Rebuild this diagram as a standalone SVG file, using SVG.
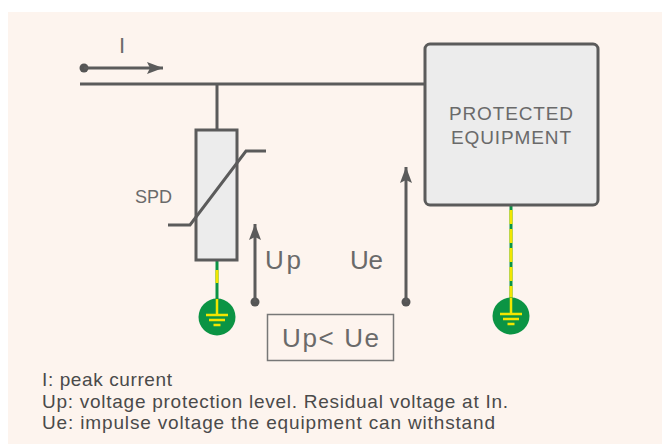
<svg xmlns="http://www.w3.org/2000/svg" width="662" height="444" viewBox="0 0 662 444">
<defs>
<style>
.wire{stroke:#5b5b5b;stroke-width:3;fill:none}
.box{stroke:#5b5b5b;stroke-width:3;fill:#ececec}
.dot{fill:#555}
.lbl{font-family:"Liberation Sans",Arial,sans-serif;fill:#6a6a6a}
.leg{font-family:"Liberation Sans",Arial,sans-serif;fill:#4a4a4a;font-size:19px}
.gw{stroke:#0b9444;stroke-width:3}
.gy{stroke:#f3e600;stroke-width:3;stroke-dasharray:14 5}
.gc{fill:#0b9444}
.gs{stroke:#f3e600;stroke-width:2.5;fill:none}
</style>
<marker id="arr" viewBox="0 0 16 12" refX="16" refY="6" markerWidth="16" markerHeight="12" markerUnits="userSpaceOnUse" orient="auto">
<path d="M0,0 L16,6 L0,12 L3,6 Z" fill="#5b5b5b"/>
</marker>
<g id="ground">
<circle class="gc" cx="0" cy="0" r="18.5"/>
<path class="gs" d="M0,-18 V-2 M-11,-2 H11 M-8,3 H8 M-3.5,8 H3.5"/>
</g>
</defs>
<rect x="8" y="12" width="654" height="432" fill="#fdf4ee"/>
<g id="connectors">
<path class="wire" d="M80,84 H425"/>
<path class="wire" d="M217,84 V130"/>
<line class="gw" x1="217" y1="261" x2="217" y2="300"/>
<line class="gy" x1="217" y1="270" x2="217" y2="300" style="stroke-dasharray:13 30"/>
<line class="gw" x1="511" y1="206" x2="511" y2="298"/>
<line class="gy" x1="511" y1="210" x2="511" y2="298"/>
</g>
<g id="current">
<circle class="dot" cx="84" cy="68" r="4.5"/>
<line class="wire" x1="84" y1="68" x2="163" y2="68" stroke-width="2" marker-end="url(#arr)"/>
<text class="lbl" x="119" y="53" font-size="22" fill="#666">I</text>
</g>
<g id="spd">
<rect class="box" x="196" y="130" width="41" height="130"/>
<path class="wire" d="M168,225 H190 L246,151 H266" stroke-width="3"/>
<text class="lbl" x="135" y="203" font-size="18" fill="#777">SPD</text>
</g>
<g id="ground-spd"><use href="#ground" x="217" y="317"/></g>
<g id="equipment">
<rect class="box" x="425" y="44" width="173" height="161" rx="5"/>
<text class="lbl" x="511" y="120" font-size="19" text-anchor="middle" fill="#8a8a8a" textLength="124">PROTECTED</text>
<text class="lbl" x="511" y="144" font-size="19" text-anchor="middle" fill="#8a8a8a" textLength="120">EQUIPMENT</text>
</g>
<g id="ground-eq"><use href="#ground" x="511" y="316"/></g>
<g id="up">
<circle class="dot" cx="255" cy="302" r="4.5"/>
<line class="wire" x1="255" y1="302" x2="255" y2="224" stroke-width="2" marker-end="url(#arr)"/>
<text class="lbl" x="265" y="269" font-size="26" textLength="36">Up</text>
</g>
<g id="ue">
<circle class="dot" cx="406" cy="302" r="4.5"/>
<line class="wire" x1="406" y1="302" x2="406" y2="167" stroke-width="2" marker-end="url(#arr)"/>
<text class="lbl" x="350" y="269" font-size="26" textLength="33">Ue</text>
</g>
<g id="compare">
<rect x="267.5" y="314.5" width="126" height="46" fill="none" stroke="#777" stroke-width="1.5"/>
<text class="lbl" x="282" y="347" font-size="26" textLength="97">Up&lt; Ue</text>
</g>
<g id="legend">
<text class="leg" x="42" y="386" textLength="130">I: peak current</text>
<text class="leg" x="42" y="408" textLength="466">Up: voltage protection level. Residual voltage at In.</text>
<text class="leg" x="42" y="429" textLength="453">Ue: impulse voltage the equipment can withstand</text>
</g>
</svg>
